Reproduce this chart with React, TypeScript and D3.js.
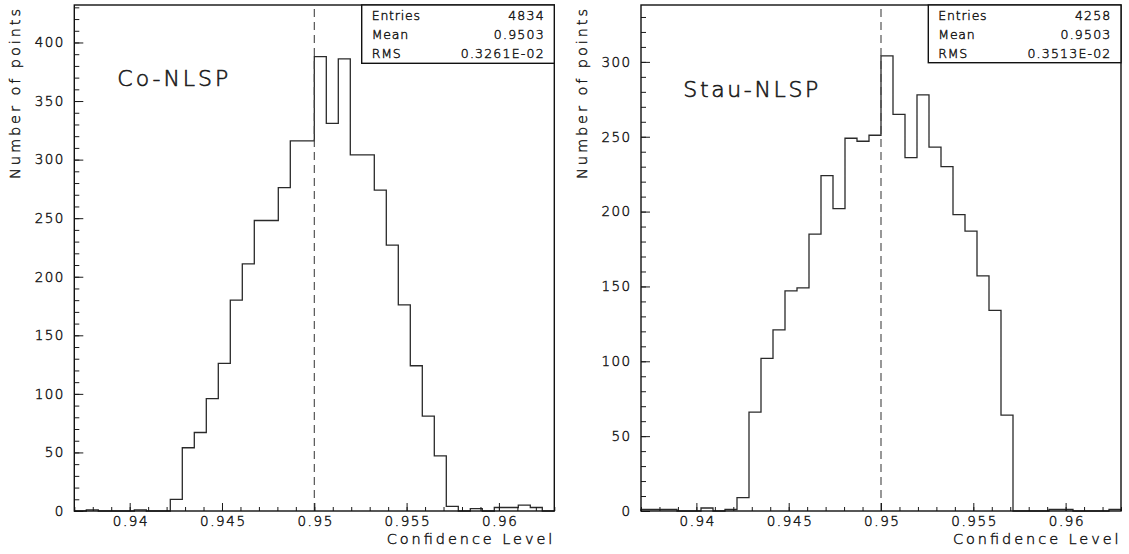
import React, { useEffect, useRef } from "react";
import * as d3 from "d3";

// ---- data ----
const X_MIN = 0.937;
const X_MAX = 0.963;
const N_BINS = 40;
const CUT_VALUE = 0.95;

const coCounts = [
  0, 1, 0, 0, 0, 1, 0, 0, 10, 54, 67, 96, 126, 180, 211, 248, 248, 276, 316, 316,
  388, 331, 386, 304, 304, 274, 227, 176, 124, 81, 47, 4, 0, 2, 0, 3, 3, 5, 3, 0,
];
const stauCounts = [
  1, 1, 1, 0, 0, 2, 0, 1, 9, 66, 102, 121, 147, 149, 185, 224, 202, 249, 247, 251,
  304, 265, 236, 278, 243, 230, 198, 187, 157, 134, 64, 0, 0, 0, 1, 1, 0, 0, 0, 1,
];

const xTickValues = [0.94, 0.945, 0.95, 0.955, 0.96];
const coYTicks = [0, 50, 100, 150, 200, 250, 300, 350, 400];
const stauYTicks = [0, 50, 100, 150, 200, 250, 300];

const coStats = [
  ["Entries", "4834"],
  ["Mean", "0.9503"],
  ["RMS", "0.3261E-02"],
];
const stauStats = [
  ["Entries", "4258"],
  ["Mean", "0.9503"],
  ["RMS", "0.3513E-02"],
];

const panelLabels = ["Co-NLSP", "Stau-NLSP"];
const X_TITLE = "Confidence Level";
const Y_TITLE = "Number of points";

// ---- layout ----
const W = 1129;
const H = 554;
const TOP = 5;
const BOTTOM = 511;
const FONT = "'DejaVu Sans', 'Liberation Sans', sans-serif";
const INK = "#1a1a1a";
const WEIGHT = 200;
const TEXT_STROKE = 0.45;

const panels = [
  {
    counts: coCounts, yMax: 432, yTicks: coYTicks, stats: coStats, label: panelLabels[0],
    left: 74.3, right: 554.3, statsLeft: 361.7, statsBottom: 63.3,
    labelX: 117.3, labelY: 86, labelLen: 111, yTitleX: 20, xTitleEnd: 552.3,
  },
  {
    counts: stauCounts, yMax: 338, yTicks: stauYTicks, stats: stauStats, label: panelLabels[1],
    left: 641, right: 1121, statsLeft: 928.3, statsBottom: 62.7,
    labelX: 683.3, labelY: 96.7, labelLen: 135, yTitleX: 587, xTitleEnd: 1118.6,
  },
];

function styleText(sel: any, size: number) {
  return sel
    .attr("font-family", FONT)
    .attr("font-size", size)
    .attr("font-weight", WEIGHT)
    .attr("fill", INK)
    .attr("stroke", INK)
    .attr("stroke-width", TEXT_STROKE);
}

function drawPanel(g: d3.Selection<SVGGElement, unknown, null, undefined>, p: any) {
  const x = d3.scaleLinear().domain([X_MIN, X_MAX]).range([p.left, p.right]);
  const y = d3.scaleLinear().domain([0, p.yMax]).range([BOTTOM, TOP]);
  const binW = (X_MAX - X_MIN) / N_BINS;
  const edges = d3.range(N_BINS + 1).map((i) => X_MIN + i * binW);

  // histogram outline
  const pts: [number, number][] = [[edges[0], 0]];
  p.counts.forEach((c: number, i: number) => pts.push([edges[i], c]));
  pts.push([edges[N_BINS], p.counts[N_BINS - 1]]);
  pts.push([edges[N_BINS], 0]);
  const line = d3
    .line<[number, number]>()
    .x((d) => x(d[0]))
    .y((d) => y(d[1]))
    .curve(d3.curveStepAfter);
  g.append("path")
    .attr("d", line(pts))
    .attr("fill", "none")
    .attr("stroke", "#2a2a2a")
    .attr("stroke-width", 1.3);

  // dashed cut line
  g.append("line")
    .attr("x1", x(CUT_VALUE)).attr("x2", x(CUT_VALUE))
    .attr("y1", BOTTOM).attr("y2", TOP)
    .attr("stroke", "#444").attr("stroke-width", 1.1)
    .attr("stroke-dasharray", "8,5");

  // x minor ticks
  const xMinor = d3.range(0, 27).map((i) => +(X_MIN + i * 0.001).toFixed(3));
  const xMinorAxis = d3.axisBottom(x).tickValues(xMinor).tickSize(-4).tickFormat(() => "");
  const gxm = g.append("g").attr("transform", `translate(0,${BOTTOM})`).call(xMinorAxis);
  gxm.select(".domain").remove();
  gxm.selectAll("line").attr("stroke", INK).attr("stroke-width", 1);

  const xAxis = d3
    .axisBottom(x)
    .tickValues(xTickValues)
    .tickSize(-8)
    .tickPadding(5.5)
    .tickFormat((d) => String(+(+d).toFixed(3)));
  const gx = g.append("g").attr("transform", `translate(0,${BOTTOM})`).call(xAxis);
  gx.select(".domain").remove();
  gx.selectAll("line").attr("stroke", INK).attr("stroke-width", 1);
  styleText(gx.selectAll("text"), 13.5).attr("letter-spacing", 1.6).attr("dx", 0.8);

  // y minor ticks
  const yMinor = d3.range(0, p.yMax + 1, 10);
  const yMinorAxis = d3.axisLeft(y).tickValues(yMinor).tickSize(-5).tickFormat(() => "");
  const gym = g.append("g").attr("transform", `translate(${p.left},0)`).call(yMinorAxis);
  gym.select(".domain").remove();
  gym.selectAll("line").attr("stroke", INK).attr("stroke-width", 1);

  const yAxis = d3.axisLeft(y).tickValues(p.yTicks).tickSize(-9).tickPadding(9.5);
  const gy = g.append("g").attr("transform", `translate(${p.left},0)`).call(yAxis);
  gy.select(".domain").remove();
  gy.selectAll("line").attr("stroke", INK).attr("stroke-width", 1);
  styleText(gy.selectAll("text"), 13.5).attr("letter-spacing", 1.4);

  // frame
  g.append("rect")
    .attr("x", p.left).attr("y", TOP)
    .attr("width", p.right - p.left).attr("height", BOTTOM - TOP)
    .attr("fill", "none").attr("stroke", "#111").attr("stroke-width", 1.4);

  // stats box
  g.append("rect")
    .attr("x", p.statsLeft).attr("y", TOP)
    .attr("width", p.right - p.statsLeft).attr("height", p.statsBottom - TOP)
    .attr("fill", "#fff").attr("stroke", "#111").attr("stroke-width", 1.4);
  const rowY = [20, 39, 57.5];
  p.stats.forEach((row: string[], i: number) => {
    styleText(
      g.append("text").attr("x", p.statsLeft + 10).attr("y", rowY[i]),
      12.5
    )
      .attr("letter-spacing", 0.8)
      .text(row[0]);
    styleText(
      g.append("text").attr("x", p.right - 9.5).attr("y", rowY[i]).attr("text-anchor", "end"),
      12.5
    )
      .attr("letter-spacing", 1.2)
      .text(row[1]);
  });

  // panel label
  styleText(g.append("text").attr("x", p.labelX).attr("y", p.labelY), 22)
    .attr("stroke-width", 0.6)
    .attr("textLength", p.labelLen).attr("lengthAdjust", "spacing")
    .text(p.label);

  // x title
  const xtLen = 165.6;
  styleText(g.append("text").attr("x", p.xTitleEnd - xtLen).attr("y", 543.5), 14.5)
    .attr("textLength", xtLen).attr("lengthAdjust", "spacing")
    .text(X_TITLE);

  // y title
  styleText(
    g.append("text").attr("transform", `translate(${p.yTitleX},179) rotate(-90)`).attr("x", 0).attr("y", 0),
    14.5
  )
    .attr("textLength", 170).attr("lengthAdjust", "spacing")
    .text(Y_TITLE);
}

export default function App() {
  const ref = useRef<SVGSVGElement | null>(null);
  useEffect(() => {
    if (!ref.current) return;
    const svg = d3.select(ref.current);
    svg.selectAll("*").remove();
    svg.append("rect").attr("width", W).attr("height", H).attr("fill", "#fff");
    panels.forEach((p) => {
      const g = svg.append("g") as any;
      drawPanel(g, p);
    });
  }, []);
  return (
    <svg
      ref={ref}
      width={W}
      height={H}
      viewBox={`0 0 ${W} ${H}`}
      style={{ position: "absolute", left: 0, top: 0, display: "block" }}
    />
  );
}
